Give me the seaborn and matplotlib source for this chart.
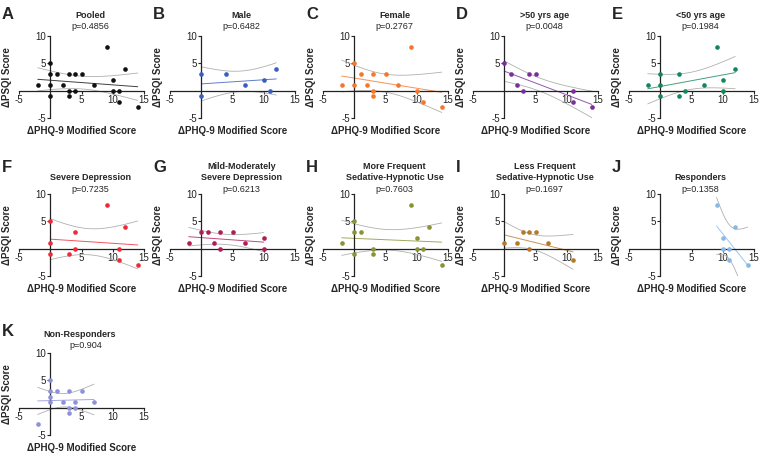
import math
import numpy as np
import matplotlib
matplotlib.use('Agg')
import matplotlib.pyplot as plt
import seaborn as sns

# data: (dPHQ-9 modified score, dPSQI score) per subgroup
pooled_x = [-2, 0, 0, 0, 0, 1, 2, 3, 3, 3, 4, 4, 5, 7, 9, 10, 10, 11, 11, 12, 14]
pooled_y = [1, 5, 3, 1, -1, 3, 1, 3, 0, -1, 3, 0, 3, 1, 8, 2, 0, 0, -2, 4, -3]

male_x = [0, 0, 4, 7, 10, 11, 12]
male_y = [3, -1, 3, 1, 2, 0, 4]

female_x = [-2, 0, 0, 1, 2, 3, 3, 3, 5, 7, 9, 10, 11, 14]
female_y = [1, 5, 1, 3, 1, 3, 0, -1, 3, 1, 8, 0, -2, -3]

over50_x = [0, 1, 2, 3, 4, 5, 11, 11, 14]
over50_y = [5, 3, 1, 0, 3, 3, 0, -2, -3]

under50_x = [-2, 0, 0, 0, 3, 3, 4, 7, 9, 10, 10, 12]
under50_y = [1, 3, 1, -1, 3, -1, 0, 1, 8, 2, 0, 4]

severe_x = [0, 0, 0, 3, 4, 4, 9, 11, 11, 12, 14]
severe_y = [5, 1, -1, -1, 3, 0, 8, 0, -2, 4, -3]

mild_x = [-2, 0, 1, 2, 3, 3, 5, 7, 10, 10]
mild_y = [1, 3, 3, 1, 3, 0, 3, 1, 2, 0]

more_sed_x = [-2, 0, 0, 0, 1, 3, 3, 9, 10, 10, 11, 12, 14]
more_sed_y = [1, 5, 3, -1, 3, 0, -1, 8, 2, 0, 0, 4, -3]

less_sed_x = [0, 2, 3, 4, 5, 4, 7, 11]
less_sed_y = [1, 1, 3, 3, 3, 0, 1, -2]

resp_x = [9, 10, 10, 11, 11, 12, 14]
resp_y = [8, 2, 0, 0, -2, 4, -3]

nonresp_x = [-2, 0, 0, 0, 0, 1, 2, 3, 3, 3, 4, 4, 5, 7]
nonresp_y = [-3, 5, 3, 2, 1, 3, 1, 3, 0, -1, 1, 0, 3, 1]

letters = ['A', 'B', 'C', 'D', 'E', 'F', 'G', 'H', 'I', 'J', 'K']
titles = ['Pooled', 'Male', 'Female', '>50 yrs age', '<50 yrs age',
          'Severe Depression', 'Mild-Moderately\nSevere Depression',
          'More Frequent\nSedative-Hypnotic Use', 'Less Frequent\nSedative-Hypnotic Use',
          'Responders', 'Non-Responders']
pvals = ['p=0.4856', 'p=0.6482', 'p=0.2767', 'p=0.0048', 'p=0.1984',
         'p=0.7235', 'p=0.6213', 'p=0.7603', 'p=0.1697', 'p=0.1358', 'p=0.904']
xs_all = [pooled_x, male_x, female_x, over50_x, under50_x, severe_x, mild_x,
          more_sed_x, less_sed_x, resp_x, nonresp_x]
ys_all = [pooled_y, male_y, female_y, over50_y, under50_y, severe_y, mild_y,
          more_sed_y, less_sed_y, resp_y, nonresp_y]
colors = ['#111111', '#3a5dbf', '#f4772a', '#7a2e9c', '#14875a', '#ee2a3a',
          '#b01c55', '#8a9236', '#b57a29', '#86b8e8', '#8e90d8']

xticks = [-5, 5, 10, 15]
xticklabels = ['-5', '5', '10', '15']
yticks = [-5, 5, 10]
yticklabels = ['-5', '5', '10']

sns.set_theme(style='white')
plt.rcParams['font.family'] = ['Liberation Sans', 'DejaVu Sans']

W, H = 762, 453
fig = plt.figure(figsize=(W / 100, H / 100), dpi=100)

col_left = [19, 170, 323, 473, 629]
row_top = [36, 194, 353]
ax_w, ax_h = 125, 82
# title line / p-value centre heights (px from top) for each row
title_y = [15, 177.5, 334.3]
p_y = [26.7, 189.5, 345.7]


def t975(df):
    # 97.5% quantile of student t, by integrating the pdf
    t = np.linspace(0, 60, 200001)
    c = math.gamma((df + 1) / 2) / (math.sqrt(df * math.pi) * math.gamma(df / 2))
    pdf = c * (1 + t ** 2 / df) ** (-(df + 1) / 2)
    cdf = 0.5 + np.concatenate([[0], np.cumsum((pdf[1:] + pdf[:-1]) / 2 * np.diff(t))])
    return np.interp(0.975, cdf, t)


def fit_band(x, y):
    x = np.asarray(x, float)
    y = np.asarray(y, float)
    n = len(x)
    b, a = np.polyfit(x, y, 1)
    xs = np.linspace(x.min(), x.max(), 120)
    yhat = a + b * xs
    s = np.sqrt(np.sum((y - (a + b * x)) ** 2) / (n - 2))
    sxx = np.sum((x - x.mean()) ** 2)
    se = s * np.sqrt(1 / n + (xs - x.mean()) ** 2 / sxx)
    t = t975(n - 2)
    return xs, yhat, yhat - t * se, yhat + t * se


for i in range(len(letters)):
    r, c = divmod(i, 5)
    left, top = col_left[c], row_top[r]
    ax = fig.add_axes([left / W, 1 - (top + ax_h) / H, ax_w / W, ax_h / H])
    ax.set_facecolor('none')

    x, y, col = xs_all[i], ys_all[i], colors[i]
    fx, fy, lo, hi = fit_band(x, y)
    for band in (lo, hi):
        sns.lineplot(x=fx, y=band, ax=ax, color='#b0b0b0', lw=0.6,
                     sort=False, estimator=None, zorder=2)
    sns.lineplot(x=fx, y=fy, ax=ax, color=col, lw=0.7, alpha=0.8,
                 sort=False, estimator=None, zorder=2)
    sns.scatterplot(x=x, y=y, ax=ax, color=col, s=11, linewidth=0, zorder=4)

    ax.set_xlim(-5, 15)
    ax.set_ylim(-5, 10)
    for side in ['top', 'right']:
        ax.spines[side].set_visible(False)
    ax.spines['left'].set_position(('data', 0))
    ax.spines['bottom'].set_position(('data', 0))
    for side in ['left', 'bottom']:
        ax.spines[side].set_color('#222222')
        ax.spines[side].set_linewidth(0.9)
        ax.spines[side].set_zorder(3)
    ax.set_xticks(xticks)
    ax.set_xticklabels(xticklabels)
    ax.set_yticks(yticks)
    ax.set_yticklabels(yticklabels)
    ax.tick_params(axis='both', direction='out', length=2, width=0.8,
                   color='#222222', labelsize=7, pad=1.2, labelcolor='#222222')
    ax.tick_params(axis='x', bottom=True)
    ax.tick_params(axis='y', left=True)
    ax.set_xlabel('')
    ax.set_ylabel('')
    ax.grid(False)

    ax.text(0.5, -0.155, 'ΔPHQ-9 Modified Score', transform=ax.transAxes,
            ha='center', va='center', fontsize=7, fontweight='bold')
    ax.text(-0.096, 0.5, 'ΔPSQI Score', transform=ax.transAxes, rotation=90,
            ha='center', va='center', fontsize=7, fontweight='bold')

    # panel letter, title lines and p value
    fig.text((left - 17) / W, 1 - (top - 29 - (5 if r == 1 else 0)) / H, letters[i],
             ha='left', va='top', fontsize=12, fontweight='bold')
    cx = left + ax_w / 2 + (9 if i != 10 else -2)
    lines = titles[i].split('\n')
    for k, line in enumerate(lines):
        ly = title_y[r] - 11.3 * (len(lines) - 1 - k)
        fig.text(cx / W, 1 - ly / H, line, ha='center', va='center',
                 fontsize=6.5, fontweight='bold')
    fig.text((cx + (6 if i == 10 else 0)) / W, 1 - p_y[r] / H, pvals[i],
             ha='center', va='center', fontsize=6.5)

fig.savefig('out.png', dpi=100)
